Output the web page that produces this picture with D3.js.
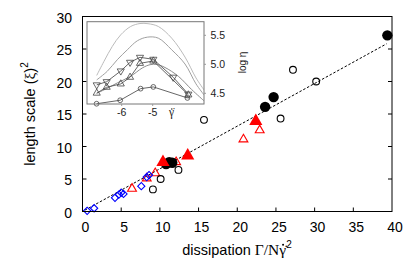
<!DOCTYPE html>
<html><head><meta charset="utf-8">
<script src="https://cdn.jsdelivr.net/npm/d3@7"></script>
<style>body{margin:0;background:#fff}svg{display:block}</style>
</head><body><svg id="c" width="415" height="271"></svg>
<script>
// ---- main plot data ----
const xTicks = [0,5,10,15,20,25,30,35,40];
const yTicks = [0,5,10,15,20,25,30];
const blackFilled = [[39.4,27.1],[24.7,17.6],[23.6,16.1],[10.8,7.3],[11.2,7.6],[11.6,7.5]];
const blackOpen = [[30.2,20.0],[27.2,21.8],[25.6,14.3],[15.7,14.1],[12.4,6.4],[10.1,5.0],[9.1,3.4]];
const redFilled = [[22.4,13.9],[13.6,8.6],[10.4,7.6]];
const redOpen = [[22.9,12.5],[20.8,11.1],[12.1,7.6],[9.4,5.9],[8.3,5.1],[6.4,3.5]];
const blueDiamond = [[0.6,0.1],[1.5,0.5],[4.2,2.1],[4.7,2.6],[5.0,2.9],[5.3,2.7],[7.6,3.9],[8.3,5.3],[8.6,5.6]];
const fitX = [0.3, 39.3];
const fitY = [0.2, 25.8];
// ---- inset data ----
const insetXTicks = [-6,-5];
const insetYTicks = [4.5,5.0,5.5];
const curveA = [[-6.806,4.808],[-6.571,5.051],[-6.303,5.309],[-6.032,5.508],[-5.710,5.652],[-5.410,5.703],[-5.152,5.700],[-4.819,5.652],[-4.387,5.451],[-3.958,5.125],[-3.603,4.765],[-3.345,4.559]];
const curveB = [[-6.806,4.731],[-6.465,4.880],[-6.142,5.079],[-5.819,5.250],[-5.497,5.405],[-5.174,5.468],[-4.819,5.451],[-4.387,5.250],[-3.958,5.005],[-3.603,4.662],[-3.345,4.473]];
const curveC = [[-6.806,4.499],[-6.474,4.585],[-6.142,4.679],[-5.710,4.794],[-5.335,4.937],[-5.087,4.993],[-4.861,4.997],[-4.603,4.945],[-4.174,4.794],[-3.742,4.564],[-3.345,4.370]];
const downTri = [[-6.806,4.645],[-6.484,4.70],[-6.03,4.885],[-5.73,5.034],[-5.41,5.12],[-4.98,5.086],[-4.34,4.777],[-3.85,4.485]];
const upTri = [[-6.806,4.503],[-6.484,4.605],[-6.03,4.662],[-5.73,4.777],[-5.41,5.017],[-4.98,5.057],[-3.85,4.473]];
const circ = [[-6.81,4.32],[-6.05,4.38],[-5.39,4.58],[-4.98,4.61],[-3.88,4.42]];

const svg = d3.select('#c');
const SANS = '"Liberation Sans", Arial, Helvetica, sans-serif';
const SERIF = '"Liberation Serif", "Times New Roman", serif';

const L=82.5, R=392, T=16.5, B=211.5;
const x = d3.scaleLinear().domain([0,40]).range([L,R]);
const y = d3.scaleLinear().domain([0,30]).range([B,T]);

// ticks (inward, left/bottom/right)
const tk = svg.append('g').attr('stroke','#000').attr('stroke-width',1);
xTicks.slice(1,-1).forEach(v=>tk.append('line').attr('x1',x(v)).attr('x2',x(v)).attr('y1',B).attr('y2',B-4));
yTicks.slice(1,-1).forEach(v=>{
  tk.append('line').attr('x1',L).attr('x2',L+4).attr('y1',y(v)).attr('y2',y(v));
  tk.append('line').attr('x1',R).attr('x2',R-4).attr('y1',y(v)).attr('y2',y(v));
});
// tick labels
const lab = svg.append('g').attr('font-family',SANS).attr('font-size',14).attr('fill','#000');
xTicks.forEach(v=>lab.append('text').attr('x',x(v)+3).attr('y',231.5).attr('text-anchor','middle').text(v));
yTicks.forEach(v=>lab.append('text').attr('x',72).attr('y',y(v)+1.5).attr('dy','0.35em').attr('text-anchor','end').text(v));

// axis titles
const xt = svg.append('text').attr('x',237).attr('y',255).attr('text-anchor','middle')
  .attr('font-family',SANS).attr('font-size',14.5);
xt.append('tspan').text('dissipation ');
const gam = xt.append('tspan').attr('font-family',SERIF).attr('font-size',15.5).text('Γ/Nγ\u0307');
xt.append('tspan').attr('font-size',10).attr('dy',-7).text('2');

const yt = svg.append('text').attr('transform','translate(35,114) rotate(-90)').attr('text-anchor','middle')
  .attr('font-family',SANS).attr('font-size',14.5);
yt.append('tspan').text('length scale (');
yt.append('tspan').attr('font-family',SERIF).attr('font-size',15.5).text('ξ');
yt.append('tspan').text(')');
yt.append('tspan').attr('font-size',10).attr('dy',-7).text('2');

// fit line
svg.append('line').attr('x1',x(fitX[0])).attr('y1',y(fitY[0])).attr('x2',x(fitX[1])).attr('y2',y(fitY[1]))
  .attr('stroke','#000').attr('stroke-width',1).attr('stroke-dasharray','2.5,1.8');

// markers
const tri = (s)=>d3.symbol().type(d3.symbolTriangle).size(s)();
const dia = d3.symbol().type(d3.symbolSquare).size(26)();
const m = svg.append('g');
m.selectAll('.rd').data(redOpen).join('path').attr('d',tri(34))
  .attr('transform',d=>`translate(${x(d[0])},${y(d[1])})`).attr('fill','none').attr('stroke','#f00').attr('stroke-width',1.1);
m.selectAll('.bd').data(blueDiamond).join('path').attr('d',dia)
  .attr('transform',d=>`translate(${x(d[0])},${y(d[1])}) rotate(45)`).attr('fill','none').attr('stroke','#00f').attr('stroke-width',1.1);
m.selectAll('.bo').data(blackOpen).join('circle').attr('cx',d=>x(d[0])).attr('cy',d=>y(d[1])).attr('r',3.4)
  .attr('fill','none').attr('stroke','#000').attr('stroke-width',1.1);
m.selectAll('.bf').data(blackFilled).join('circle').attr('cx',d=>x(d[0])).attr('cy',d=>y(d[1])).attr('r',5.2)
  .attr('fill','#000');
m.selectAll('.rf').data(redFilled).join('path').attr('d',tri(75))
  .attr('transform',d=>`translate(${x(d[0])},${y(d[1])})`).attr('fill','#f00');

// frame
svg.append('rect').attr('x',L).attr('y',T).attr('width',R-L).attr('height',B-T)
  .attr('fill','none').attr('stroke','#000').attr('stroke-width',1);

// ---- inset ----
const iL=87, iR=204, iT=21.7, iB=104;
const ix = d3.scaleLinear().domain([-6,-5]).range([121.7,152.7]);
const iy = d3.scaleLinear().domain([4.5,5.0]).range([93.3,64.3]);
svg.append('rect').attr('x',iL).attr('y',iT).attr('width',iR-iL).attr('height',iB-iT).attr('fill','#fff');
svg.append('clipPath').attr('id','ic').append('rect').attr('x',iL).attr('y',iT-3).attr('width',iR-iL).attr('height',iB-iT+6);
const ig = svg.append('g').attr('clip-path','url(#ic)');
const ln = d3.line().x(d=>ix(d[0])).y(d=>iy(d[1]));
const sm = d3.line().x(d=>ix(d[0])).y(d=>iy(d[1])).curve(d3.curveCatmullRom);
[[curveA,'#bbb'],[curveB,'#a0a0a0'],[curveC,'#8c8c8c']].forEach(([c,col])=>
  ig.append('path').attr('d',sm(c)).attr('fill','none').attr('stroke',col).attr('stroke-width',1));
[downTri,upTri,circ].forEach(s=>ig.append('path').attr('d',ln(s)).attr('fill','none').attr('stroke','#555').attr('stroke-width',0.9));
const dn = d3.symbol().type(d3.symbolTriangle).size(22)();
ig.selectAll('.dt').data(downTri).join('path').attr('d',dn)
  .attr('transform',d=>`translate(${ix(d[0])},${iy(d[1])}) rotate(180)`).attr('fill','none').attr('stroke','#444').attr('stroke-width',0.8);
ig.selectAll('.ut').data(upTri).join('path').attr('d',dn)
  .attr('transform',d=>`translate(${ix(d[0])},${iy(d[1])})`).attr('fill','none').attr('stroke','#444').attr('stroke-width',0.8);
ig.selectAll('.ci').data(circ).join('circle').attr('cx',d=>ix(d[0])).attr('cy',d=>iy(d[1])).attr('r',2.4)
  .attr('fill','none').attr('stroke','#444').attr('stroke-width',0.8);
svg.append('rect').attr('x',iL).attr('y',iT).attr('width',iR-iL).attr('height',iB-iT)
  .attr('fill','none').attr('stroke','#777').attr('stroke-width',1);
// inset ticks + labels
const il = svg.append('g').attr('font-family',SANS).attr('font-size',10.5).attr('fill','#222');
insetXTicks.forEach(v=>{
  svg.append('line').attr('x1',ix(v)).attr('x2',ix(v)).attr('y1',iB).attr('y2',iB+2).attr('stroke','#999');
  il.append('text').attr('x',ix(v)).attr('y',116).attr('text-anchor','middle').text(v);
});
insetYTicks.forEach(v=>{
  svg.append('line').attr('x1',iR).attr('x2',iR+2).attr('y1',iy(v)).attr('y2',iy(v)).attr('stroke','#999');
  il.append('text').attr('x',210.5).attr('y',iy(v)).attr('dy','0.35em').text(v.toFixed(1));
});
const gl = il.append('text').attr('x',169).attr('y',116).attr('font-family',SERIF).attr('font-size',11.5).text('γ\u0307');
il.append('text').attr('transform','translate(245.5,62.5) rotate(-90)').attr('text-anchor','middle').attr('font-size',10).text('log η');

// overdots for the γ̇ glyphs (placed from measured glyph boxes)
function overdot(tspanNode, textNode, r, dyOff){
  const n = tspanNode.node();
  const cnt = n.getNumberOfChars();
  const ext = n.getExtentOfChar(cnt-2 >= 0 ? cnt-2 : 0);
  svg.append('circle').attr('cx',ext.x+ext.width*0.55).attr('cy',ext.y+ext.height*dyOff).attr('r',r).attr('fill','#000');
}
try{
  const xn = xt.node(); const total = xn.getNumberOfChars();
  // gamma is the char before the combining dot and the superscript '2'
  const e = xn.getExtentOfChar(total-3);
  svg.append('circle').attr('cx',e.x+e.width*0.55).attr('cy',e.y+e.height*0.22).attr('r',1).attr('fill','#000');
  const gn = gl.node(); const e2 = gn.getExtentOfChar(0);
  svg.append('circle').attr('cx',e2.x+e2.width*0.55).attr('cy',e2.y+e2.height*0.24).attr('r',0.75).attr('fill','#222');
}catch(err){}
</script></body></html>
